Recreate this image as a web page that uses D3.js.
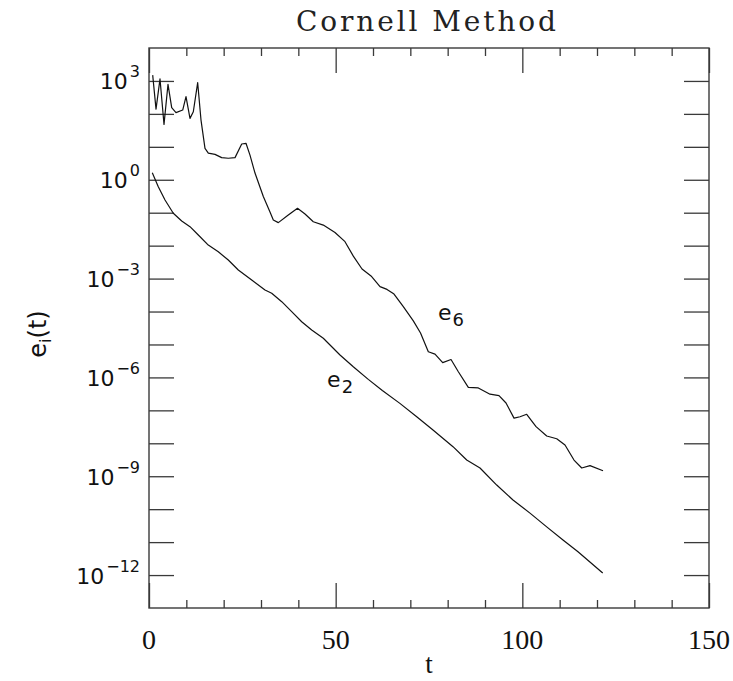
<!DOCTYPE html>
<html>
<head>
<meta charset="utf-8">
<script src="https://cdn.jsdelivr.net/npm/d3@7"></script>
<style>
  html, body { margin: 0; padding: 0; background: #fff; }
  svg { display: block; }
</style>
</head>
<body>
<svg id="chart" width="733" height="681"></svg>
<script>
// ---- data ----
const titleText = "Cornell Method";
const xLabelText = "t";

const e2Times = [0.88, 2.49, 4.29, 6.51, 8.76, 10.98, 13.21, 15.88, 18.56, 21.24, 23.92, 27.51,
  31.07, 32.87, 35.55, 38.22, 40.90, 43.58, 46.69, 51.16, 54.72, 58.74, 62.5, 67.2, 71.71, 76.07,
  81.43, 85.10, 88.66, 93.14, 97.50, 102.05, 106.53, 110.89, 114.91, 121.53];
const e2Values = [1.64, 0.615, 0.243, 9.6e-2, 5.6e-2, 3.76e-2, 2.1e-2, 1.04e-2, 6.5e-3, 3.66e-3,
  1.82e-3, 9.1e-4, 4.5e-4, 3.57e-4, 1.99e-4, 9.9e-5, 4.9e-5, 2.75e-5, 1.54e-5, 4.8e-6, 2.11e-6,
  8.7e-7, 4.0e-7, 1.63e-7, 6.4e-8, 2.53e-8, 7.9e-9, 3.1e-9, 1.78e-9, 5.4e-10, 1.9e-10, 7.6e-11,
  2.9e-11, 1.16e-11, 5.1e-12, 1.15e-12];

const e6Times = [0.99, 1.88, 2.95, 4.02, 5.09, 6.08, 7.23, 9.03, 9.91, 10.98, 11.87, 13.04, 13.93,
  15.0, 15.89, 17.68, 19.47, 21.25, 23.04, 24.83, 25.98, 27.05, 28.39, 30.62, 32.41, 33.30, 34.64,
  37.31, 39.78, 41.79, 44.01, 46.69, 49.82, 52.50, 54.73, 57.06, 59.47, 61.88, 63.75, 65.63, 68.12,
  70.80, 72.73, 74.82, 76.61, 78.67, 80.90, 82.86, 85.53, 88.21, 91.34, 93.75, 95.63, 97.77, 99.38,
  101.17, 103.67, 106.53, 109.21, 111.43, 113.84, 115.91, 118.13, 121.61];
const e6Values = [1.5e3, 1.4e2, 1.15e3, 4.8e1, 7.9e2, 1.54e2, 1.09e2, 1.31e2, 3.33e2, 7.3e1, 1.16e2,
  8.85e2, 6.5e1, 9.0, 6.4, 5.9, 4.7, 4.5, 4.7, 12.2, 12.8, 5.6, 1.6, 3.1e-1, 1.05e-1, 6.0e-2, 5.0e-2,
  8.5e-2, 1.36e-1, 9.1e-2, 5.3e-2, 4.2e-2, 2.5e-2, 1.32e-2, 4.8e-3, 1.95e-3, 1.2e-3, 5.7e-4, 4.7e-4,
  3.4e-4, 1.4e-4, 5.2e-5, 2.23e-5, 6.0e-6, 5.1e-6, 2.8e-6, 3.5e-6, 1.49e-6, 5.0e-7, 4.8e-7, 3.1e-7,
  2.8e-7, 1.67e-7, 5.8e-8, 6.4e-8, 7.6e-8, 3.2e-8, 1.66e-8, 1.37e-8, 8.9e-9, 3.1e-9, 1.78e-9,
  2.1e-9, 1.47e-9];

const xMajorTicks = [0, 50, 100, 150];
const xMinorTicks = [10, 20, 30, 40, 60, 70, 80, 90, 110, 120, 130, 140];
const yDecadeTicks = [1e3, 1e2, 1e1, 1e0, 1e-1, 1e-2, 1e-3, 1e-4, 1e-5, 1e-6, 1e-7, 1e-8, 1e-9,
  1e-10, 1e-11, 1e-12];
const yLabelExponents = ["3", "0", "−3", "−6", "−9", "−12"];
const yLabelValues = [1e3, 1e0, 1e-3, 1e-6, 1e-9, 1e-12];

const seriesLabels = [
  { base: "e", sub: "6", t: 77.4, v: 5.5e-5 },
  { base: "e", sub: "2", t: 47.7, v: 5.1e-7 }
];

// ---- layout ----
const mLeft = 149, mRight = 709, mTop = 48, mBottom = 608;
const svg = d3.select("#chart");
const x = d3.scaleLinear().domain([0, 150]).range([mLeft, mRight]);
const y = d3.scaleLog().domain([1e-13, 1e4]).range([mBottom, mTop]);

const axisColor = "#3a3a3a";
const sansFont = "'DejaVu Sans', sans-serif";
const serifFont = "'Liberation Serif', serif";

function styleAxis(g) {
  g.select(".domain").remove();
  g.selectAll(".tick line").attr("stroke", axisColor).attr("stroke-width", 1.3);
  g.selectAll(".tick text").remove();
}

// bottom ticks (inward)
svg.append("g").attr("transform", `translate(0,${mBottom})`)
  .call(d3.axisBottom(x).tickValues(xMinorTicks).tickSize(-8).tickFormat("")).call(styleAxis);
svg.append("g").attr("transform", `translate(0,${mBottom})`)
  .call(d3.axisBottom(x).tickValues(xMajorTicks).tickSize(-25).tickFormat("")).call(styleAxis);
// top ticks (inward)
svg.append("g").attr("transform", `translate(0,${mTop})`)
  .call(d3.axisTop(x).tickValues(xMinorTicks).tickSize(-8).tickFormat("")).call(styleAxis);
svg.append("g").attr("transform", `translate(0,${mTop})`)
  .call(d3.axisTop(x).tickValues(xMajorTicks).tickSize(-25).tickFormat("")).call(styleAxis);
// left / right ticks
svg.append("g").attr("transform", `translate(${mLeft},0)`)
  .call(d3.axisLeft(y).tickValues(yDecadeTicks).tickSize(-25).tickFormat("")).call(styleAxis);
svg.append("g").attr("transform", `translate(${mRight},0)`)
  .call(d3.axisRight(y).tickValues(yDecadeTicks).tickSize(-25).tickFormat("")).call(styleAxis);

// frame
svg.append("rect")
  .attr("x", mLeft).attr("y", mTop)
  .attr("width", mRight - mLeft).attr("height", mBottom - mTop)
  .attr("fill", "none").attr("stroke", axisColor).attr("stroke-width", 1.4);

// x tick labels
svg.append("g").selectAll("text").data(xMajorTicks).join("text")
  .attr("x", d => x(d)).attr("y", mBottom + 41)
  .attr("text-anchor", "middle")
  .attr("font-family", serifFont).attr("font-size", 28).attr("fill", "#111")
  .text(d => d);

// y tick labels 10^n
const yl = svg.append("g").selectAll("text").data(yLabelValues).join("text")
  .attr("x", mLeft - 9).attr("y", d => y(d) + 8.5)
  .attr("text-anchor", "end")
  .attr("font-family", sansFont).attr("fill", "#111");
yl.append("tspan").attr("font-size", 22).text("10");
yl.append("tspan").attr("font-size", 16).attr("dx", 2).attr("dy", -12)
  .text((d, i) => yLabelExponents[i]);

// axis titles
svg.append("text")
  .attr("x", (mLeft + mRight) / 2).attr("y", 673)
  .attr("text-anchor", "middle")
  .attr("font-family", serifFont).attr("font-size", 27).attr("fill", "#111")
  .text(xLabelText);

const ylab = svg.append("text")
  .attr("transform", `translate(46,334) rotate(-90)`)
  .attr("text-anchor", "middle")
  .attr("font-family", sansFont).attr("font-size", 24).attr("fill", "#111");
ylab.append("tspan").text("e");
ylab.append("tspan").attr("font-size", 16).attr("dy", 5).text("i");
ylab.append("tspan").attr("dy", -5).text("(t)");

// title
svg.append("text")
  .attr("x", 296).attr("y", 31)
  .attr("textLength", 260).attr("lengthAdjust", "spacing")
  .attr("font-family", "'DejaVu Serif', serif").attr("font-size", 28).attr("fill", "#222")
  .text(titleText);

// lines
const line = d3.line().x(d => x(d[0])).y(d => y(d[1]));
svg.append("path")
  .datum(d3.zip(e2Times, e2Values))
  .attr("d", line).attr("fill", "none").attr("stroke", "#111").attr("stroke-width", 1.2)
  .attr("stroke-linejoin", "round");
svg.append("path")
  .datum(d3.zip(e6Times, e6Values))
  .attr("d", line).attr("fill", "none").attr("stroke", "#111").attr("stroke-width", 1.2)
  .attr("stroke-linejoin", "round");

// series labels
const sl = svg.append("g").selectAll("text").data(seriesLabels).join("text")
  .attr("x", d => x(d.t)).attr("y", d => y(d.v))
  .attr("font-family", sansFont).attr("fill", "#111");
sl.append("tspan").attr("font-size", 22).text(d => d.base);
sl.append("tspan").attr("font-size", 18).attr("dx", 1).attr("dy", 6).text(d => d.sub);
</script>
</body>
</html>
